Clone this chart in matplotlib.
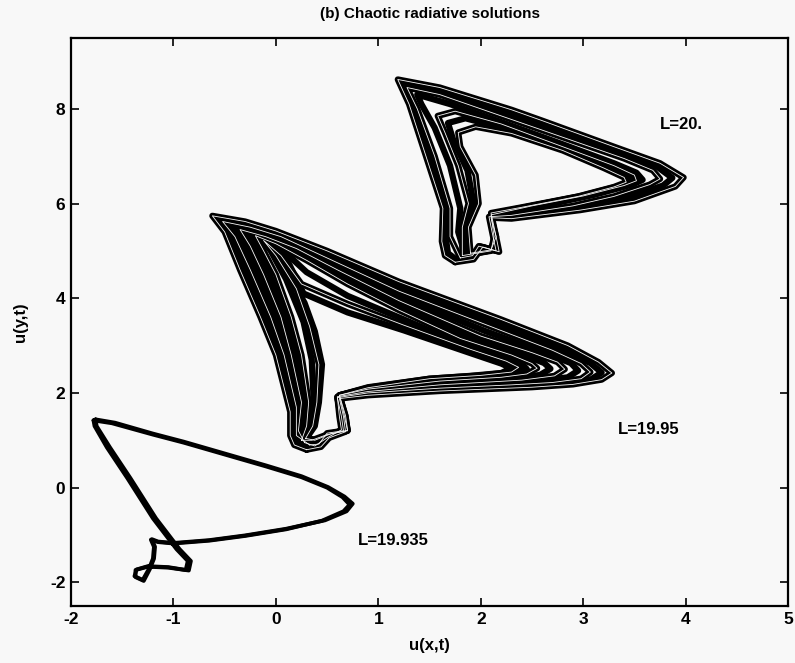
import numpy as np
import matplotlib
matplotlib.use('Agg')
from matplotlib import pyplot as plt, rcParams

rcParams['font.family'] = ['Liberation Sans', 'DejaVu Sans']
rcParams['axes.unicode_minus'] = False

# --- L=19.935 : thin, almost periodic orbit (bottom left) ---
loop_19935_a = [(-1.78, 1.42), (-1.6, 1.36), (-1.2, 1.12), (-0.9, 0.95), (-0.5, 0.70),
                (-0.1, 0.45), (0.25, 0.22), (0.5, 0.0), (0.65, -0.2), (0.72, -0.36),
                (0.66, -0.5), (0.45, -0.7), (0.1, -0.88), (-0.3, -1.02), (-0.65, -1.12),
                (-1.0, -1.18), (-1.15, -1.15), (-1.22, -1.1), (-1.19, -1.25), (-1.2, -1.5),
                (-1.24, -1.72), (-1.3, -1.95), (-1.38, -1.87), (-1.36, -1.73), (-1.25, -1.66),
                (-1.05, -1.68), (-0.88, -1.74), (-0.86, -1.55), (-0.97, -1.3), (-1.2, -0.65),
                (-1.45, 0.2), (-1.65, 0.85), (-1.77, 1.3), (-1.78, 1.42)]
loop_19935_b = [(-1.76, 1.44), (-1.57, 1.37), (-1.2, 1.14), (-0.9, 0.97), (-0.5, 0.72),
                (-0.1, 0.47), (0.25, 0.24), (0.51, 0.01), (0.67, -0.19), (0.75, -0.34),
                (0.69, -0.5), (0.48, -0.69), (0.1, -0.87), (-0.3, -1.01), (-0.65, -1.11),
                (-1.0, -1.17), (-1.15, -1.14), (-1.21, -1.09), (-1.18, -1.25), (-1.19, -1.5),
                (-1.23, -1.72), (-1.29, -1.97), (-1.37, -1.89), (-1.37, -1.74), (-1.25, -1.67),
                (-1.05, -1.69), (-0.85, -1.75), (-0.83, -1.55), (-0.94, -1.3), (-1.17, -0.65),
                (-1.42, 0.2), (-1.62, 0.85), (-1.75, 1.3), (-1.76, 1.44)]

# --- L=19.95 : chaotic band (middle), outer to inner trajectories ---
loop_1995_a = [(0.30, 0.80), (0.18, 0.9), (0.14, 1.1), (0.14, 1.6), (0.0, 2.8), (-0.15, 3.6),
               (-0.35, 4.6), (-0.50, 5.4), (-0.62, 5.74), (-0.3, 5.62), (0.0, 5.42), (0.5, 5.0),
               (1.2, 4.35), (2.2, 3.55), (2.85, 3.0), (3.15, 2.65), (3.28, 2.42), (3.18, 2.28),
               (2.9, 2.18), (2.5, 2.12), (1.6, 2.04), (0.9, 1.95), (0.62, 1.88), (0.66, 1.5),
               (0.68, 1.18), (0.52, 1.05), (0.44, 0.86), (0.30, 0.80)]
loop_1995_h = [(0.31, 0.84), (0.2, 0.95), (0.18, 1.1), (0.17, 1.65), (0.04, 2.8), (-0.1, 3.6),
               (-0.3, 4.6), (-0.45, 5.35), (-0.57, 5.68), (-0.28, 5.56), (0.02, 5.36), (0.5, 4.93),
               (1.2, 4.25), (2.15, 3.47), (2.78, 2.95), (3.07, 2.63), (3.18, 2.43), (3.08, 2.29),
               (2.8, 2.2), (2.4, 2.15), (1.6, 2.07), (0.9, 1.97), (0.61, 1.89), (0.65, 1.5),
               (0.67, 1.19), (0.52, 1.1), (0.43, 0.9), (0.31, 0.84)]
loop_1995_b = [(0.33, 0.9), (0.2, 1.1), (0.2, 1.7), (0.08, 2.8), (-0.05, 3.6), (-0.25, 4.6),
               (-0.4, 5.3), (-0.52, 5.62), (-0.25, 5.5), (0.05, 5.3), (0.5, 4.85), (1.2, 4.15),
               (2.1, 3.4), (2.7, 2.9), (2.98, 2.62), (3.07, 2.44), (2.98, 2.3), (2.7, 2.22),
               (2.3, 2.17), (1.6, 2.1), (0.9, 2.0), (0.6, 1.9), (0.64, 1.5), (0.66, 1.2),
               (0.5, 1.15), (0.42, 0.92), (0.33, 0.9)]
loop_1995_i = [(0.3, 0.92), (0.21, 1.15), (0.22, 1.75), (0.12, 2.8), (0.0, 3.6), (-0.18, 4.55),
               (-0.32, 5.2), (-0.44, 5.53), (-0.18, 5.4), (0.12, 5.18), (0.55, 4.73), (1.2, 4.05),
               (2.05, 3.3), (2.6, 2.87), (2.88, 2.63), (2.95, 2.47), (2.85, 2.33), (2.55, 2.24),
               (1.6, 2.13), (0.9, 2.01), (0.6, 1.91), (0.63, 1.5), (0.65, 1.21), (0.5, 1.1),
               (0.4, 0.9), (0.3, 0.92)]
loop_1995_c = [(0.28, 0.95), (0.22, 1.2), (0.25, 1.8), (0.15, 2.8), (0.05, 3.6), (-0.12, 4.5),
               (-0.25, 5.1), (-0.35, 5.45), (-0.1, 5.3), (0.2, 5.05), (0.6, 4.6), (1.2, 3.95),
               (2.0, 3.2), (2.5, 2.85), (2.75, 2.65), (2.82, 2.5), (2.72, 2.36), (2.4, 2.27),
               (1.6, 2.17), (0.9, 2.03), (0.6, 1.92), (0.62, 1.5), (0.64, 1.22), (0.5, 1.05),
               (0.38, 0.88), (0.28, 0.95)]
loop_1995_j = [(0.27, 0.98), (0.27, 1.25), (0.29, 1.8), (0.2, 2.8), (0.1, 3.6), (-0.06, 4.5),
               (-0.18, 5.05), (-0.28, 5.38), (-0.05, 5.22), (0.25, 4.92), (0.65, 4.45), (1.2, 3.85),
               (1.9, 3.18), (2.4, 2.82), (2.62, 2.63), (2.68, 2.51), (2.58, 2.38), (2.3, 2.3),
               (1.6, 2.2), (0.9, 2.05), (0.61, 1.93), (0.64, 1.55), (0.67, 1.21), (0.5, 1.08),
               (0.36, 0.95), (0.27, 0.98)]
loop_1995_d = [(0.25, 1.0), (0.3, 1.3), (0.32, 1.8), (0.25, 2.8), (0.15, 3.6), (0.0, 4.5),
               (-0.12, 5.0), (-0.2, 5.32), (0.0, 5.15), (0.3, 4.8), (0.7, 4.3), (1.2, 3.75),
               (1.8, 3.15), (2.3, 2.8), (2.5, 2.62), (2.55, 2.52), (2.45, 2.4), (2.2, 2.33),
               (1.6, 2.25), (0.9, 2.08), (0.62, 1.95), (0.66, 1.6), (0.7, 1.2), (0.5, 1.12),
               (0.35, 1.0), (0.25, 1.0)]
loop_1995_f = [(0.27, 1.02), (0.33, 1.3), (0.37, 1.8), (0.35, 2.7), (0.27, 3.5), (0.1, 4.4),
               (-0.05, 5.0), (-0.15, 5.28), (0.05, 5.05), (0.3, 4.55), (0.7, 4.05), (1.25, 3.55),
               (1.85, 3.0), (2.25, 2.72), (2.42, 2.57), (2.45, 2.5), (2.35, 2.4), (2.1, 2.34),
               (1.6, 2.27), (0.9, 2.1), (0.62, 1.95), (0.67, 1.55), (0.7, 1.2), (0.52, 1.12),
               (0.36, 0.98), (0.27, 1.02)]
loop_1995_g = [(0.29, 1.04), (0.36, 1.3), (0.4, 1.8), (0.42, 2.6), (0.33, 3.4), (0.2, 4.2),
               (0.0, 4.9), (-0.12, 5.22), (0.05, 4.9), (0.25, 4.3), (0.7, 3.88), (1.25, 3.43),
               (1.9, 2.92), (2.25, 2.67), (2.37, 2.54), (2.3, 2.44), (2.0, 2.37), (1.5, 2.3),
               (0.9, 2.11), (0.62, 1.95), (0.68, 1.52), (0.7, 1.21), (0.54, 1.14), (0.38, 1.0),
               (0.29, 1.04)]
loop_1995_e = [(0.3, 1.05), (0.38, 1.3), (0.42, 1.8), (0.45, 2.6), (0.38, 3.3), (0.28, 3.9),
               (0.1, 4.6), (-0.05, 5.1), (-0.1, 5.25), (0.1, 4.85), (0.27, 4.1), (0.7, 3.7),
               (1.25, 3.32), (1.9, 2.84), (2.2, 2.62), (2.3, 2.52), (2.2, 2.42), (1.9, 2.36),
               (1.5, 2.3), (0.9, 2.12), (0.62, 1.95), (0.68, 1.5), (0.7, 1.22), (0.55, 1.15),
               (0.4, 1.0), (0.3, 1.05)]

# --- L=20 : chaotic band (top right), outer to inner trajectories ---
loop_20_a = [(1.75, 4.76), (1.65, 4.9), (1.62, 5.2), (1.63, 5.9), (1.45, 7.1), (1.3, 8.1),
             (1.19, 8.62), (1.6, 8.45), (2.3, 7.98), (2.6, 7.75), (3.3, 7.2), (3.75, 6.85),
             (3.98, 6.55), (3.9, 6.36), (3.5, 6.05), (2.97, 5.86), (2.3, 5.68), (2.1, 5.7),
             (2.15, 5.3), (2.18, 4.98), (2.02, 5.08), (1.93, 4.82), (1.75, 4.76)]
loop_20_f = [(1.77, 4.8), (1.68, 4.95), (1.66, 5.25), (1.66, 5.9), (1.5, 7.05), (1.34, 8.05),
             (1.23, 8.54), (1.6, 8.38), (2.25, 7.92), (2.7, 7.58), (3.35, 7.08), (3.72, 6.78),
             (3.87, 6.54), (3.78, 6.38), (3.4, 6.1), (2.93, 5.9), (2.3, 5.71), (2.09, 5.71),
             (2.13, 5.3), (2.17, 4.99), (1.99, 5.1), (1.93, 4.87), (1.77, 4.8)]
loop_20_b = [(1.8, 4.85), (1.7, 5.3), (1.7, 5.9), (1.55, 7.0), (1.38, 8.0), (1.28, 8.45),
             (1.6, 8.3), (2.2, 7.85), (2.8, 7.4), (3.4, 6.95), (3.68, 6.7), (3.75, 6.52),
             (3.65, 6.4), (3.3, 6.15), (2.9, 5.95), (2.3, 5.75), (2.08, 5.72), (2.12, 5.3),
             (2.15, 5.0), (1.98, 5.1), (1.92, 4.9), (1.8, 4.85)]
loop_20_c = [(1.85, 4.9), (1.78, 5.4), (1.8, 5.9), (1.7, 6.8), (1.55, 7.6), (1.42, 8.1),
             (1.38, 8.3), (1.7, 8.1), (2.2, 7.72), (2.8, 7.25), (3.3, 6.85), (3.52, 6.65),
             (3.58, 6.5), (3.48, 6.4), (3.1, 6.18), (2.6, 5.95), (2.1, 5.78), (2.14, 5.3),
             (2.12, 5.02), (1.85, 4.9)]
loop_20_e = [(1.82, 4.9), (1.82, 5.5), (1.88, 6.0), (1.78, 6.8), (1.65, 7.5), (1.58, 7.85),
             (1.75, 7.95), (2.2, 7.68), (2.8, 7.2), (3.3, 6.8), (3.5, 6.6), (3.52, 6.48),
             (3.4, 6.38), (3.0, 6.16), (2.5, 5.95), (2.1, 5.76), (2.13, 5.3), (2.1, 5.0),
             (1.82, 4.9)]
loop_20_g = [(1.86, 4.92), (1.85, 5.5), (1.93, 6.0), (1.87, 6.7), (1.73, 7.35), (1.68, 7.7),
             (1.85, 7.8), (2.25, 7.58), (2.8, 7.16), (3.25, 6.78), (3.45, 6.58), (3.47, 6.47),
             (3.35, 6.37), (2.98, 6.16), (2.45, 5.93), (2.1, 5.78), (2.14, 5.3), (2.1, 5.01),
             (1.86, 4.92)]
loop_20_d = [(1.9, 4.95), (1.88, 5.5), (1.98, 6.0), (1.95, 6.6), (1.8, 7.2), (1.78, 7.5),
             (1.95, 7.62), (2.3, 7.48), (2.8, 7.12), (3.2, 6.75), (3.4, 6.55), (3.42, 6.45),
             (3.3, 6.35), (2.95, 6.15), (2.4, 5.92), (2.1, 5.8), (2.15, 5.3), (2.1, 5.02),
             (1.9, 4.95)]

loops = {
    '19.935': [loop_19935_a, loop_19935_b],
    '19.95': [loop_1995_a, loop_1995_h, loop_1995_b, loop_1995_i, loop_1995_c,
              loop_1995_j, loop_1995_d, loop_1995_f, loop_1995_g, loop_1995_e],
    '20.': [loop_20_a, loop_20_f, loop_20_b, loop_20_c, loop_20_e, loop_20_g, loop_20_d],
}
# (black width, light streak width) per band
line_widths = {'19.935': (2.8, 0.0), '19.95': (4.5, 0.6), '20.': (4.5, 0.6)}

labels = ['L=20.', 'L=19.95', 'L=19.935']
label_pos = [(3.75, 7.66), (3.34, 1.22), (0.80, -1.11)]

xticks = list(range(-2, 6))
yticks = list(range(-2, 9, 2))

bg = '#f8f8f8'
fig = plt.figure(figsize=(7.95, 6.63), dpi=100, facecolor=bg)
ax = fig.add_axes([0.0893, 0.086, 0.902, 0.857], facecolor=bg)

# dark bands first
for key, group in loops.items():
    for loop in group:
        x, y = np.array(loop).T
        ax.plot(x, y, '-', color='k', lw=line_widths[key][0],
                solid_joinstyle='round', solid_capstyle='round')
# thin light streaks between the trajectories
for key, group in loops.items():
    if line_widths[key][1] == 0:
        continue
    for loop in group[::2]:
        x, y = np.array(loop).T
        ax.plot(x, y, '-', color=bg, lw=line_widths[key][1],
                solid_joinstyle='round', solid_capstyle='round')

for txt, (tx, ty) in zip(labels, label_pos):
    ax.text(tx, ty, txt, fontsize=12, fontweight='bold', ha='left', va='center')

ax.set_xlim(-2, 5)
ax.set_ylim(-2.5, 9.5)
ax.set_xticks(xticks)
ax.set_yticks(yticks)
ax.tick_params(direction='in', top=True, right=True, length=6, width=1.2,
               labelsize=12.5, pad=4)
for lab in ax.get_xticklabels() + ax.get_yticklabels():
    lab.set_fontweight('bold')
for sp in ax.spines.values():
    sp.set_linewidth(1.6)

ax.set_title('(b) Chaotic radiative solutions', fontsize=11, fontweight='bold', pad=14)
ax.set_xlabel('u(x,t)', fontsize=12, fontweight='bold', labelpad=8)
ax.set_ylabel('u(y,t)', fontsize=12, fontweight='bold', labelpad=16)

fig.savefig('out.png', dpi=100, facecolor=bg)
